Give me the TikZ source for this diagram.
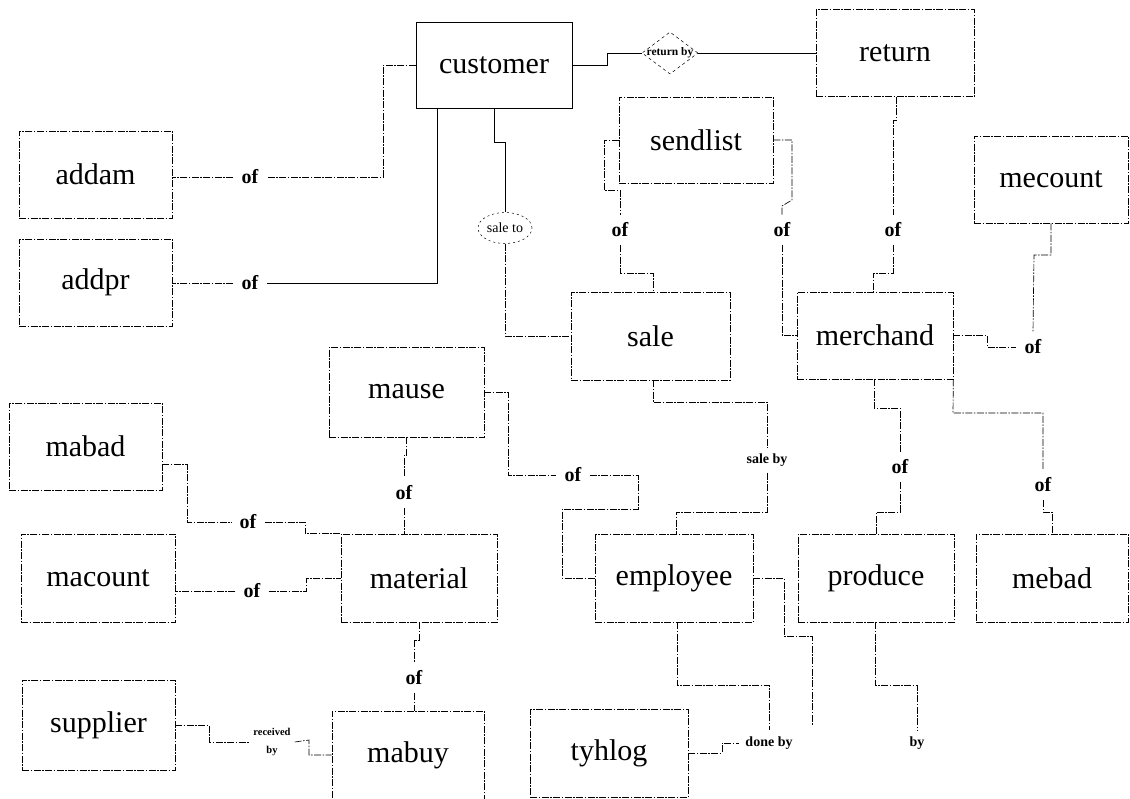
\documentclass[tikz,border=0pt]{standalone}
\usepackage{fontspec}
\setmainfont{Liberation Serif}
\usetikzlibrary{shapes.geometric}
\begin{document}
\begin{tikzpicture}[x=1pt,y=-1pt,
  brk/.style={line width=0.65pt, dash pattern=on 7pt off 1.5pt on 1.5pt off 1.5pt},
  ent/.style={draw, brk, minimum width=155pt, minimum height=88pt, inner sep=0pt,
    font=\fontsize{30}{30}\selectfont},
  link/.style={draw, brk},
  rel/.style={font=\bfseries\fontsize{20}{20}\selectfont, inner sep=8pt},
  small/.style={font=\bfseries\fontsize{14}{14}\selectfont, inner sep=6pt}]
\useasboundingbox (0,0) rectangle (1130,798);

% entities
\node[ent, solid, minimum width=156pt, minimum height=86pt] (customer) at (494,65) {customer};
\node[ent, minimum width=158pt, minimum height=87pt] (return) at (895,53) {return};
\node[ent, minimum width=154pt, minimum height=86pt] (sendlist) at (696,140) {sendlist};
\node[ent, minimum width=154pt, minimum height=87pt] (mecount) at (1051,179.5) {mecount};
\node[ent, minimum width=153pt, minimum height=87pt] (addam) at (95.5,174.5) {addam};
\node[ent, minimum width=153pt, minimum height=87pt] (addpr) at (95.5,282.5) {addpr};
\node[ent, minimum width=159pt] (sale) at (650.5,336) {sale};
\node[ent, minimum width=156pt, minimum height=87pt] (merchand) at (875,335.5) {merchand};
\node[ent, minimum height=90pt] (mause) at (406.5,392) {mause};
\node[ent, minimum width=153pt, minimum height=87pt] (mabad) at (85.5,446.5) {mabad};
\node[ent, minimum width=154pt] (macount) at (98,578) {macount};
\node[ent, minimum width=156pt] (material) at (419,578) {material};
\node[ent, minimum width=158pt] (employee) at (674,578) {employee};
\node[ent, minimum width=156pt] (produce) at (876,578) {produce};
\node[ent, minimum width=152pt] (mebad) at (1052,578) {mebad};
\node[ent, minimum width=153pt, minimum height=90pt] (supplier) at (98.5,725) {supplier};
\node[ent, minimum width=152pt] (mabuy) at (408,755) {mabuy};
\node[ent, minimum width=158pt] (tyhlog) at (609,753) {tyhlog};

% relationships
\node[diamond, draw, dashed, line width=0.5pt, minimum width=56pt, minimum height=42pt, inner sep=0pt,
  label={[font=\bfseries\fontsize{11.5}{11.5}\selectfont]center:return by}] (returnby) at (670,53) {};
\node[ellipse, draw, dash pattern=on 2pt off 3pt, line width=0.5pt, minimum width=54pt, minimum height=31pt, inner sep=0pt,
  label={[font=\fontsize{14}{14}\selectfont]center:sale to}] (saleto) at (505,228) {};
\node[rel] (ofaddam) at (250,177) {of};
\node[rel] (ofaddpr) at (250,283) {of};
\node[rel] (ofsendA) at (620,230) {of};
\node[rel] (ofsendB) at (782,230) {of};
\node[rel] (ofret) at (893,230) {of};
\node[rel] (ofmec) at (1033,347) {of};
\node[rel] (ofmab) at (248,522) {of};
\node[rel] (ofmac) at (252,591) {of};
\node[rel] (ofmause) at (404,493) {of};
\node[rel] (ofemp) at (573,475) {of};
\node[small] (saleby) at (767,460) {sale by};
\node[rel] (ofprod) at (900,467) {of};
\node[rel] (ofmebad) at (1043,485) {of};
\node[rel] (ofmabuy) at (414,678) {of};
\node[align=center, inner sep=4pt, font=\bfseries\fontsize{10.5}{18}\selectfont] (recby) at (272,742) {received\\by};
\node[small] (doneby) at (769,743) {done by};
\node[small] (by) at (917,743) {by};

% customer
\draw[link, solid] (customer.east) -- (607,65) |- (returnby.west);
\draw[link, solid] (returnby.east) -- (returnby.east -| return.west);
\draw[link] (customer.west) -| (383,177) -- (ofaddam.east);
\draw[link] (ofaddam.west) -- (ofaddam.west -| addam.east);
\draw[link, solid] ([xshift=-57pt]customer.south) |- (ofaddpr.east);
\draw[link] (ofaddpr.west) -- (ofaddpr.west -| addpr.east);
\draw[link, solid] (customer.south) -- (494,142) -| (saleto.north);
\draw[link] (saleto.south) |- (sale.west);

% sendlist
\draw[link] (sendlist.west) -- (604,140) -- (604,190) -- (620,190) -- (ofsendA.north);
\draw[link] (ofsendA.south) |- (653,273) -- (653,292);
\draw[link] (sendlist.east) -- (792,140) -- (792,200) -- (782,206) -- (ofsendB.north);
\draw[link] (ofsendB.south) |- (merchand.west);

% return, mecount
\draw[link] ([xshift=1pt]return.south) -- (896,120) -- (893,120) -- (ofret.north);
\draw[link] (ofret.south) -- (893,273) -- (873,273) -- ([xshift=-2pt]merchand.north);
\draw[link] (mecount.south) -- (1051,255) -- (1034,255) -- (ofmec.north);
\draw[link] (merchand.east) -- (987,335.5) |- (ofmec.west);

% merchand
\draw[link] ([xshift=-1pt]merchand.south) -- (874,408) -| (ofprod.north);
\draw[link] (ofprod.south) |- (876,512) -- (produce.north);
\draw[link] (merchand.south east) -- (953,413) -| (ofmebad.north);
\draw[link] (ofmebad.south) -- (1043,512) -| (mebad.north);

% sale, mause
\draw[link] ([xshift=2.5pt]sale.south) -- (653,402) -| (saleby.north);
\draw[link] (saleby.south) |- (676,512) -- ([xshift=2pt]employee.north);
\draw[link] (mause.east) -- (508,392) |- (ofemp.west);
\draw[link] (ofemp.east) -| (638,509) -- (562,509) |- (employee.west);
\draw[link] (mause.south) -- (406.5,455) -- (404,455) -- (ofmause.north);
\draw[link] (ofmause.south) -- ([xshift=-15pt]material.north);

% material
\draw[link] ([yshift=-18pt]mabad.east) -- (187,464.5) |- (ofmab.west);
\draw[link] (ofmab.east) -- (305,522) |- (material.north west);
\draw[link] (ofmac.west) -- (ofmac.west -| macount.east);
\draw[link] (ofmac.east) -| ([xshift=-34pt]material.west) -- (material.west);
\draw[link] (material.south) -- (419,640) -- (414,640) -- (ofmabuy.north);
\draw[link] (ofmabuy.south) -- (ofmabuy.south |- mabuy.north);
\draw[link] (supplier.east) -- (209,725) |- (recby.west);
\draw[link] (recby.east) -- (309,740) |- (mabuy.west);

% employee, produce
\draw[link] ([xshift=3pt]employee.south) -- (677,685) -| (doneby.north);
\draw[link] (tyhlog.east) -- (722,753) |- (doneby.west);
\coordinate (empend) at (812,725);
\draw[link] (employee.east) -- (784,578) -- (784,636) -| (empend);
\draw[link] ([xshift=-1pt]produce.south) -- (875,685) -| (by.north);
\end{tikzpicture}
\end{document}
